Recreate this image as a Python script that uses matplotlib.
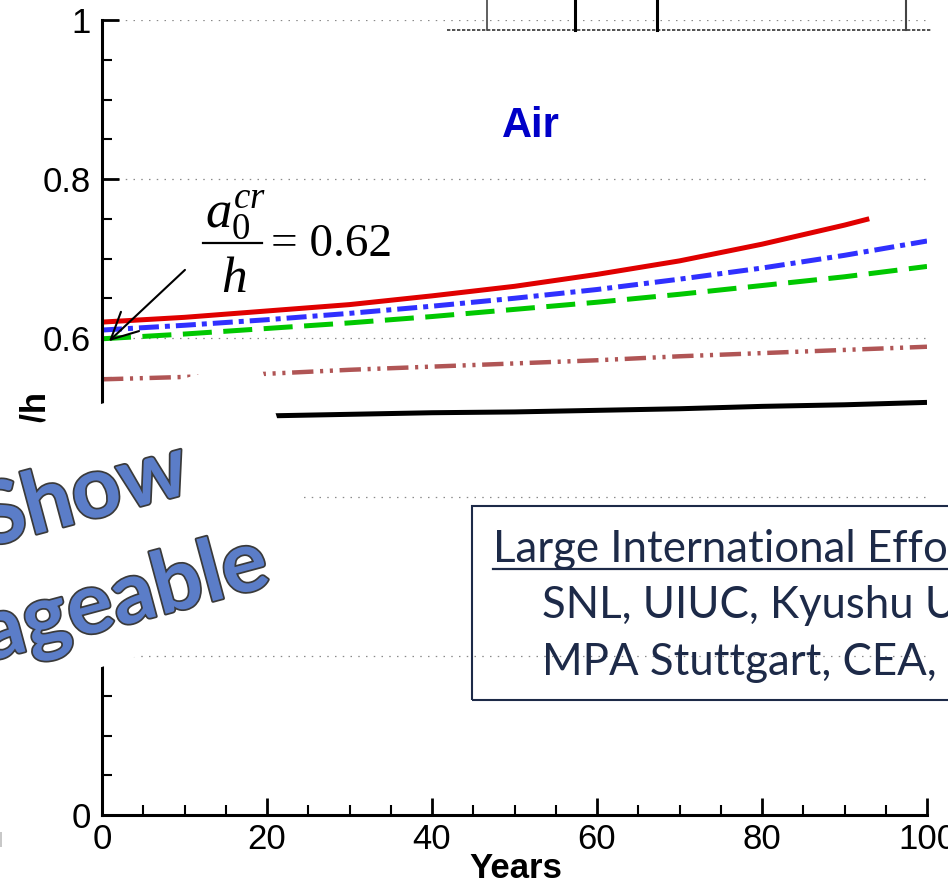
import matplotlib

matplotlib.use("Agg")
import matplotlib.pyplot as plt
import matplotlib.patheffects as pe
from matplotlib.lines import Line2D
from matplotlib.patches import FancyArrowPatch, Polygon, Rectangle
from matplotlib.ticker import MultipleLocator


W, H = 948, 884

# values (crack depth ratio vs years)
years = [0, 10, 20, 30, 40, 50, 60, 70, 80, 90, 100]
red_years = [0, 10, 20, 30, 40, 50, 60, 70, 80, 90, 93]
red = [0.620, 0.626, 0.634, 0.642, 0.653, 0.665, 0.680, 0.697, 0.718, 0.742, 0.750]
blue = [0.610, 0.616, 0.623, 0.631, 0.640, 0.650, 0.661, 0.674, 0.688, 0.704, 0.722]
green = [0.599, 0.605, 0.612, 0.619, 0.627, 0.636, 0.645, 0.655, 0.666, 0.677, 0.690]
brown = [0.548, 0.551, 0.555, 0.560, 0.564, 0.568, 0.572, 0.577, 0.581, 0.585, 0.589]
black = [0.497, 0.500, 0.502, 0.504, 0.506, 0.507, 0.509, 0.511, 0.514, 0.516, 0.519]

y_ticks = [0, 0.2, 0.4, 0.6, 0.8, 1.0]
y_tick_labels = ["0", "0.2", "0.4", "0.6", "0.8", "1"]
x_ticks = [0, 20, 40, 60, 80, 100]
x_tick_labels = ["0", "20", "40", "60", "80", "100"]

box_title = "Large International Efforts"
box_lines = ["SNL, UIUC, Kyushu Univ.,", "MPA Stuttgart, CEA, and others"]


def fx(px):
    return px / W


def fy(py):
    return 1 - py / H


plt.rcParams["mathtext.fontset"] = "custom"
plt.rcParams["mathtext.it"] = "Liberation Serif:italic"
plt.rcParams["mathtext.rm"] = "Liberation Serif"

fig = plt.figure(figsize=(W / 100, H / 100), dpi=100)
ax = fig.add_axes([fx(102), fy(815), (927 - 102) / W, (815 - 20) / H])

ax.plot(red_years, red, color="#e00000", lw=3.6, solid_capstyle="butt")
ax.plot(years, blue, color="#3030ff", lw=3.6, linestyle=(0, (4.0, 1.2, 1.0, 1.2)))
ax.plot(years, green, color="#00c800", lw=3.6, linestyle=(0, (5.8, 2.3)))
ax.plot(years, brown, color="#b05555", lw=3.2, linestyle=(0, (4.8, 1.5, 0.7, 1.5, 0.7, 1.5)))
ax.plot(years, black, color="black", lw=3.6, solid_capstyle="butt")

ax.set_xlim(0, 100)
ax.set_ylim(0, 1)
ax.set_xticks(x_ticks)
ax.set_xticklabels(x_tick_labels)
ax.set_yticks(y_ticks)
ax.set_yticklabels(y_tick_labels)
ax.xaxis.set_minor_locator(MultipleLocator(5))
ax.yaxis.set_minor_locator(MultipleLocator(0.05))
ax.tick_params(which="major", direction="in", length=12, width=2, pad=8,
               labelsize=25, labelfontfamily="Liberation Sans")
ax.tick_params(which="minor", direction="in", length=7, width=1.5)
ax.tick_params(axis="x", pad=6)
ax.yaxis.grid(True, color="#8a8a8a", lw=0.9, linestyle=(0, (1.2, 5)))
for side in ("top", "right"):
    ax.spines[side].set_visible(False)
for side in ("left", "bottom"):
    ax.spines[side].set_linewidth(2.2)
ax.patch.set_alpha(0)

fig.text(fx(516), fy(878), "Years", ha="center", va="baseline", fontsize=25,
         weight="bold", family="Liberation Sans")
fig.text(fx(45), fy(391), "a/h", rotation=90, rotation_mode="anchor", ha="right",
         va="baseline", fontsize=25, weight="bold", family="Liberation Sans")
fig.text(fx(502), fy(137), "Air", fontsize=30, weight="bold", color="#0000c8",
         family="Liberation Sans", ha="left", va="baseline")

# a0^cr / h = 0.62
fig.text(fx(205), fy(227), r"$a_0^{cr}$", fontsize=38)
fig.add_artist(Line2D([fx(203), fx(262)], [fy(243), fy(243)], color="black", lw=1.6))
fig.text(fx(221), fy(292), r"$h$", fontsize=37)
fig.text(fx(271), fy(256), "= 0.62", fontsize=34, family="Liberation Serif")
fig.add_artist(FancyArrowPatch((fx(187), fy(268)), (fx(107), fy(343)),
                               transform=fig.transFigure, arrowstyle="->,head_length=0.5,head_width=0.25",
                               mutation_scale=38, lw=1.5, color="black"))

# piece of a table from the slide above the plot
fig.add_artist(Line2D([fx(447), fx(932)], [fy(30), fy(30)], color="#333333", lw=1.2,
                      linestyle=(0, (2, 1))))
for px, lw, col in [(487, 1.2, "#444444"), (575, 2.2, "black"), (657, 2.2, "black"), (906, 1.5, "#444444")]:
    fig.add_artist(Line2D([fx(px), fx(px)], [fy(0), fy(30)], color=col, lw=lw))

# text box
navy = "#1d2a48"
fig.add_artist(Rectangle((fx(472), fy(700)), fx(520), (700 - 506) / H, fill=False,
                         edgecolor=navy, lw=1.5, transform=fig.transFigure))
fig.text(fx(493), fy(562), box_title, fontsize=31.5, color=navy, family="Lato")
fig.add_artist(Line2D([fx(493), fx(960)], [fy(569), fy(569)], color=navy, lw=1.6))
fig.text(fx(542), fy(618), box_lines[0], fontsize=31.5, color=navy, family="Lato")
fig.text(fx(542), fy(675), box_lines[1], fontsize=31.5, color=navy, family="Lato")

# white shape from the slide covering part of the plot
corners = [(-20, 441), (258, 356), (332, 597), (-20, 704)]
fig.add_artist(Polygon([(fx(x), fy(y)) for x, y in corners], closed=True, facecolor="white",
                       edgecolor="none", transform=fig.transFigure, zorder=5))
fig.add_artist(Rectangle((0, fy(847)), fx(2), 15 / H, facecolor="#c8c8c8", edgecolor="none",
                         transform=fig.transFigure, zorder=5))

art = dict(fontsize=62, weight="bold", family="Lato", color="#5b7dc8", rotation=15,
           rotation_mode="anchor", ha="right", va="baseline", zorder=6,
           path_effects=[pe.withStroke(linewidth=2.5, foreground="#3a3a3a")])
fig.text(fx(193), fy(492), "Show", **art)
fig.text(fx(273), fy(585), "ageable", **art)

fig.savefig("out.png", dpi=100)
